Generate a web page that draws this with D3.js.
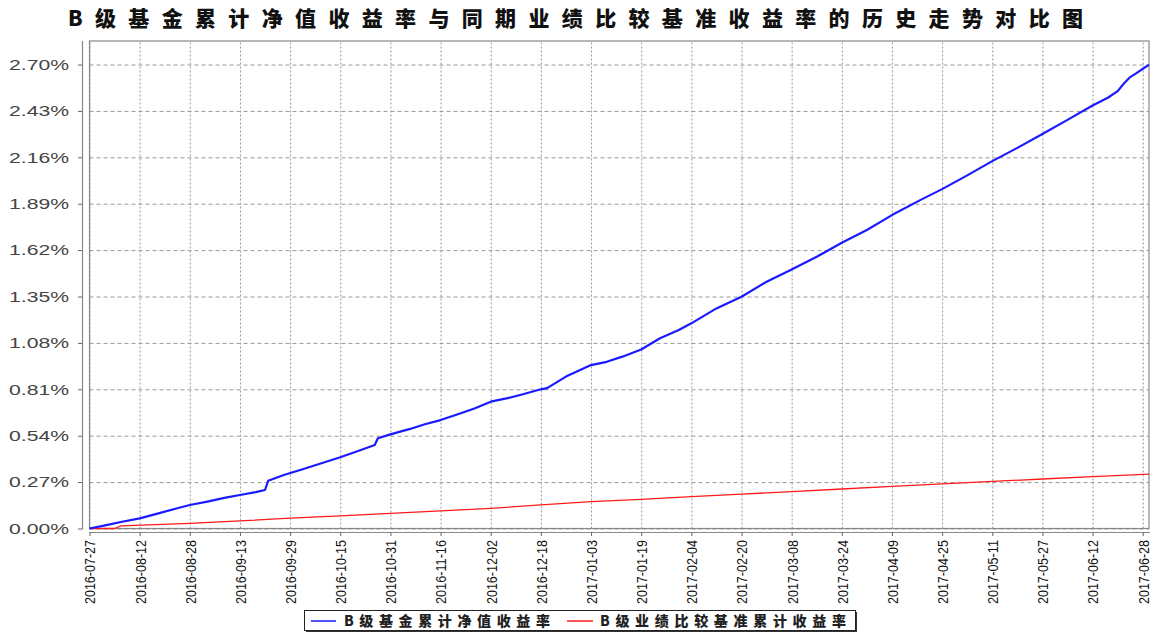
<!DOCTYPE html>
<html><head><meta charset="utf-8">
<script src="https://cdn.jsdelivr.net/npm/d3@7"></script>
<style>
html,body{margin:0;padding:0;background:#fff;}
svg{display:block;}
</style></head>
<body>
<svg id="chart" width="1152" height="634"></svg>
<script>
const titleText = "B级基金累计净值收益率与同期业绩比较基准收益率的历史走势对比图";
const seriesNames = ["B级基金累计净值收益率", "B级业绩比较基准累计收益率"];
const xTickLabels = ["2016-07-27","2016-08-12","2016-08-28","2016-09-13","2016-09-29","2016-10-15","2016-10-31","2016-11-16","2016-12-02","2016-12-18","2017-01-03","2017-01-19","2017-02-04","2017-02-20","2017-03-08","2017-03-24","2017-04-09","2017-04-25","2017-05-11","2017-05-27","2017-06-12","2017-06-28"];
const yTickValues = [0, 0.27, 0.54, 0.81, 1.08, 1.35, 1.62, 1.89, 2.16, 2.43, 2.70];

const fundDates = ["2016-07-27","2016-08-01","2016-08-06","2016-08-12","2016-08-18","2016-08-24","2016-08-28","2016-09-03","2016-09-08","2016-09-13","2016-09-18","2016-09-21","2016-09-22","2016-09-27","2016-10-03","2016-10-09","2016-10-15","2016-10-20","2016-10-26","2016-10-27","2016-10-31","2016-11-06","2016-11-11","2016-11-16","2016-11-22","2016-11-27","2016-12-02","2016-12-07","2016-12-12","2016-12-18","2016-12-20","2016-12-26","2017-01-03","2017-01-08","2017-01-13","2017-01-19","2017-01-25","2017-01-31","2017-02-04","2017-02-12","2017-02-20","2017-02-28","2017-03-08","2017-03-16","2017-03-24","2017-04-01","2017-04-09","2017-04-18","2017-04-25","2017-05-03","2017-05-11","2017-05-19","2017-05-27","2017-06-04","2017-06-12","2017-06-17","2017-06-20","2017-06-22","2017-06-24","2017-06-26","2017-06-29","2017-06-30"];
const fundValues = [0.000,0.018,0.038,0.059,0.088,0.118,0.137,0.158,0.178,0.195,0.212,0.224,0.278,0.311,0.345,0.380,0.415,0.447,0.486,0.525,0.548,0.578,0.607,0.631,0.668,0.700,0.738,0.757,0.780,0.810,0.817,0.884,0.951,0.970,1.000,1.042,1.107,1.155,1.194,1.281,1.349,1.436,1.507,1.581,1.663,1.737,1.824,1.911,1.975,2.055,2.138,2.215,2.296,2.378,2.462,2.508,2.545,2.590,2.627,2.650,2.687,2.700];

const benchDates = ["2016-07-27","2016-08-04","2016-08-06","2016-08-28","2016-09-13","2016-09-29","2016-10-15","2016-10-31","2016-11-16","2016-12-02","2016-12-18","2017-01-03","2017-01-19","2017-02-04","2017-02-20","2017-03-08","2017-03-24","2017-04-09","2017-04-25","2017-05-11","2017-05-27","2017-06-12","2017-06-30"];
const benchValues = [0.000,0.000,0.015,0.030,0.044,0.060,0.073,0.088,0.102,0.117,0.137,0.156,0.170,0.185,0.200,0.215,0.230,0.245,0.260,0.274,0.288,0.302,0.317];

const parse = d3.timeParse("%Y-%m-%d");
const fmt = d3.timeFormat("%Y-%m-%d");
const svg = d3.select("#chart");

const plot = {left: 89.5, right: 1149, top: 41, bottom: 528.5};
const x = d3.scaleTime().domain([parse("2016-07-27"), parse("2017-06-30")]).range([plot.left, plot.right]);
const y = d3.scaleLinear().domain([0, 2.837]).range([plot.bottom, plot.top]);

// title
svg.append("text").attr("x", 68).attr("y", 26)
  .attr("font-family", "'Noto Sans CJK SC', sans-serif").attr("font-weight", 900)
  .attr("font-size", 21).attr("fill", "#111")
  .attr("textLength", 1015).attr("lengthAdjust", "spacing")
  .text(titleText);

// grid lines
const gridY = svg.append("g").attr("transform", `translate(${plot.left},0)`)
  .call(d3.axisLeft(y).tickValues(yTickValues).tickSize(-(plot.right - plot.left)).tickFormat(""));
gridY.select(".domain").remove();
gridY.selectAll("line").attr("stroke", "#999").attr("stroke-dasharray", "4,3").attr("stroke-width", 1);

const gridX = svg.append("g").attr("transform", `translate(0,${plot.bottom})`)
  .call(d3.axisBottom(x).tickValues(xTickLabels.map(parse)).tickSize(-(plot.bottom - plot.top)).tickFormat(""));
gridX.select(".domain").remove();
gridX.selectAll("line").attr("stroke", "#999").attr("stroke-dasharray", "2,2").attr("stroke-width", 1);

// plot frame
svg.append("rect").attr("x", plot.left).attr("y", plot.top)
  .attr("width", plot.right - plot.left).attr("height", plot.bottom - plot.top)
  .attr("fill", "none").attr("stroke", "#888").attr("stroke-width", 1.2);

// y axis
const yAxis = svg.append("g").attr("transform", "translate(82,0)")
  .call(d3.axisLeft(y).tickValues(yTickValues).tickSize(4).tickPadding(9).tickFormat(d => d.toFixed(2) + "%"));
yAxis.select(".domain").attr("d", `M0.5,${plot.top}V${plot.bottom + 1}`).attr("stroke", "#888").attr("stroke-width", 1.2);
yAxis.selectAll("line").attr("stroke", "#666");
yAxis.selectAll("text").attr("font-family", "'Liberation Sans', Arial, sans-serif")
  .attr("font-size", 15).attr("fill", "#444")
  .attr("textLength", 60).attr("lengthAdjust", "spacingAndGlyphs");

// x axis
const xAxis = svg.append("g").attr("transform", "translate(0,532)")
  .call(d3.axisBottom(x).tickValues(xTickLabels.map(parse)).tickSize(4).tickFormat(fmt));
xAxis.select(".domain").attr("d", `M${plot.left},0.5H${plot.right + 1}`).attr("stroke", "#888").attr("stroke-width", 1.2);
xAxis.selectAll("line").attr("stroke", "#666");
xAxis.selectAll("text")
  .attr("font-family", "'Liberation Sans', Arial, sans-serif").attr("font-size", 15).attr("fill", "#111")
  .attr("text-anchor", "end").attr("transform", "rotate(-90)")
  .attr("x", -8).attr("y", 0).attr("dy", "0.36em")
  .attr("textLength", 64).attr("lengthAdjust", "spacingAndGlyphs");

// lines
const line = d3.line().x(d => x(d[0])).y(d => y(d[1]));
const fundData = fundDates.map((d, i) => [parse(d), fundValues[i]]);
const benchData = benchDates.map((d, i) => [parse(d), benchValues[i]]);

svg.append("path").datum(benchData).attr("d", line)
  .attr("fill", "none").attr("stroke", "#ff1a1a").attr("stroke-width", 1.3);
svg.append("path").datum(fundData).attr("d", line)
  .attr("fill", "none").attr("stroke", "#1a1aff").attr("stroke-width", 2.2).attr("stroke-linejoin", "round");

// legend
const lg = svg.append("g");
lg.append("rect").attr("x", 306).attr("y", 612).attr("width", 551).attr("height", 20)
  .attr("fill", "#333");
lg.append("rect").attr("x", 304.5).attr("y", 610.5).attr("width", 551).attr("height", 20)
  .attr("fill", "#fff").attr("stroke", "#222").attr("stroke-width", 1);
const legendItems = [
  {name: seriesNames[0], color: "#1a1aff", x1: 311, x2: 336, tx: 344, tw: 206},
  {name: seriesNames[1], color: "#ff1a1a", x1: 567, x2: 593, tx: 600, tw: 246}
];
legendItems.forEach(it => {
  lg.append("line").attr("x1", it.x1).attr("x2", it.x2).attr("y1", 621).attr("y2", 621)
    .attr("stroke", it.color).attr("stroke-width", 1.5);
  lg.append("text").attr("x", it.tx).attr("y", 626)
    .attr("font-family", "'Noto Sans CJK SC', sans-serif").attr("font-weight", 900)
    .attr("font-size", 14).attr("fill", "#222")
    .attr("textLength", it.tw).attr("lengthAdjust", "spacing")
    .text(it.name);
});
</script>
</body></html>
